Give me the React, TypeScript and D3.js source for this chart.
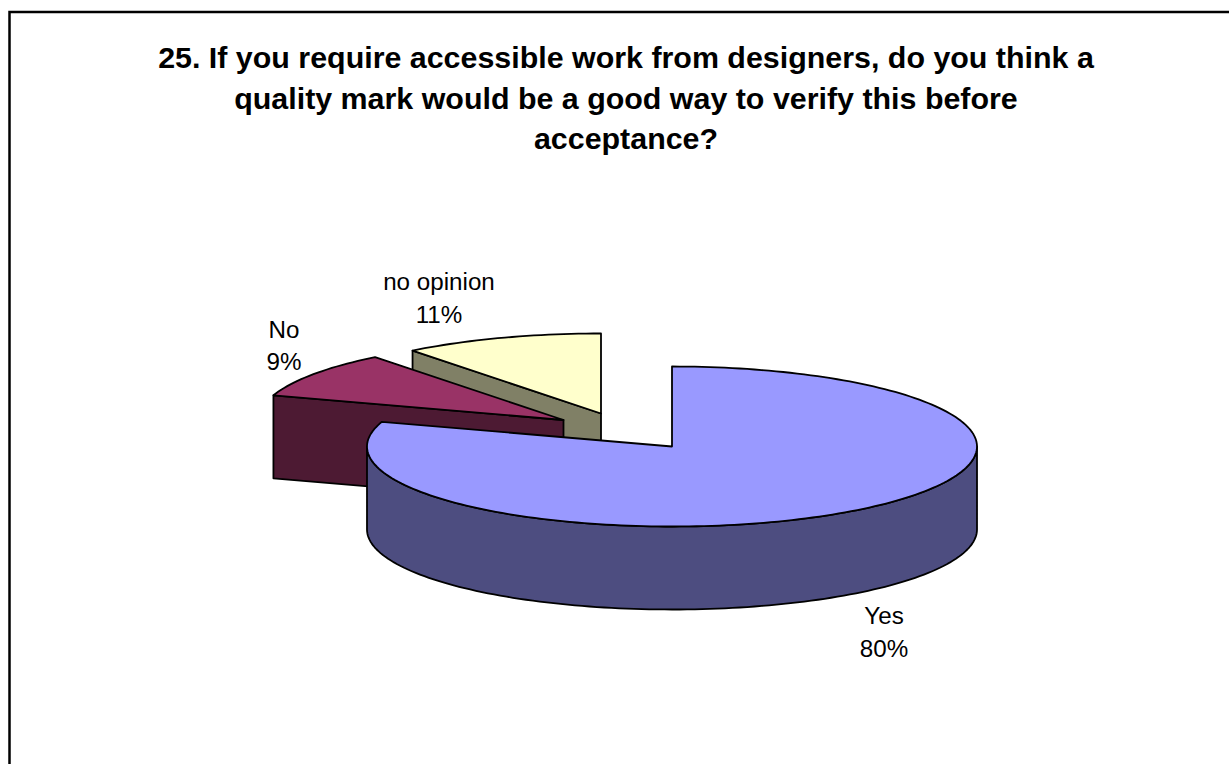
import React from "react";
import * as d3 from "d3";

const categories = ["Yes", "No", "no opinion"];
const shares = [80, 9.4, 10.6];
const percentLabels = ["80%", "9%", "11%"];
const titleLines = [
  "25. If you require accessible work from designers, do you think a",
  "quality mark would be a good way to verify this before",
  "acceptance?",
];
const topColors = ["#9999FF", "#993366", "#FFFFCC"];
const sideColors = ["#4D4D80", "#4D1A33", "#808066"];
const centers: [number, number][] = [[672, 446.5], [563.5, 420], [601, 413.5]];
const labelPos: [number, number][] = [[884, 624], [284, 337.5], [439, 290]];

const RX = 305;
const RY = 80;
const DEPTH = 83;

const arcs = d3.pie<number>().sort(null).value((d) => d)(shares);
const line = d3.line<[number, number]>();

function point(c: [number, number], a: number, dy = 0): [number, number] {
  return [c[0] + RX * Math.sin(a), c[1] - RY * Math.cos(a) + dy];
}
function arcPts(c: [number, number], a0: number, a1: number, dy = 0) {
  const n = Math.max(2, Math.ceil(Math.abs(a1 - a0) * 40));
  return d3.range(n + 1).map((i) => point(c, a0 + ((a1 - a0) * i) / n, dy));
}

const stroke = { stroke: "#000", strokeWidth: 1.8, strokeLinejoin: "round" as const };

export default function App() {
  const order = [2, 1, 0];
  return (
    <svg width={1229} height={764} style={{ position: "absolute", left: 0, top: 0, background: "#fff" }}>
      <path d="M9.5,764V12H1229" fill="none" stroke="#000" strokeWidth={2.5} />
      {titleLines.map((t, i) => (
        <text key={t} x={626} y={68 + i * 40.5} textAnchor="middle" fontFamily="Liberation Sans" fontWeight="bold" fontSize={30.4} fill="#000">{t}</text>
      ))}
      {order.map((i) => {
        const c = centers[i];
        const { startAngle: a0, endAngle: a1 } = arcs[i];
        const top = [c, ...arcPts(c, a0, a1)] as [number, number][];
        let side: React.ReactNode;
        if (i === 0) {
          const from = Math.PI / 2;
          const to = (3 * Math.PI) / 2;
          const rim = [...arcPts(c, from, to), ...arcPts(c, to, from, DEPTH)];
          side = <path d={line(rim) + "Z"} fill={sideColors[i]} {...stroke} />;
        } else {
          const edge = point(c, a0);
          const face: [number, number][] = [c, edge, [edge[0], edge[1] + DEPTH], [c[0], c[1] + DEPTH]];
          side = <path d={line(face) + "Z"} fill={sideColors[i]} {...stroke} />;
        }
        return (
          <g key={categories[i]}>
            {side}
            <path d={line(top) + "Z"} fill={topColors[i]} {...stroke} />
          </g>
        );
      })}
      {categories.map((name, i) => (
        <text key={name} x={labelPos[i][0]} y={labelPos[i][1]} textAnchor="middle" fontFamily="Liberation Sans" fontSize={24.2} fill="#000">
          <tspan x={labelPos[i][0]}>{name}</tspan>
          <tspan x={labelPos[i][0]} dy={32.5}>{percentLabels[i]}</tspan>
        </text>
      ))}
    </svg>
  );
}
